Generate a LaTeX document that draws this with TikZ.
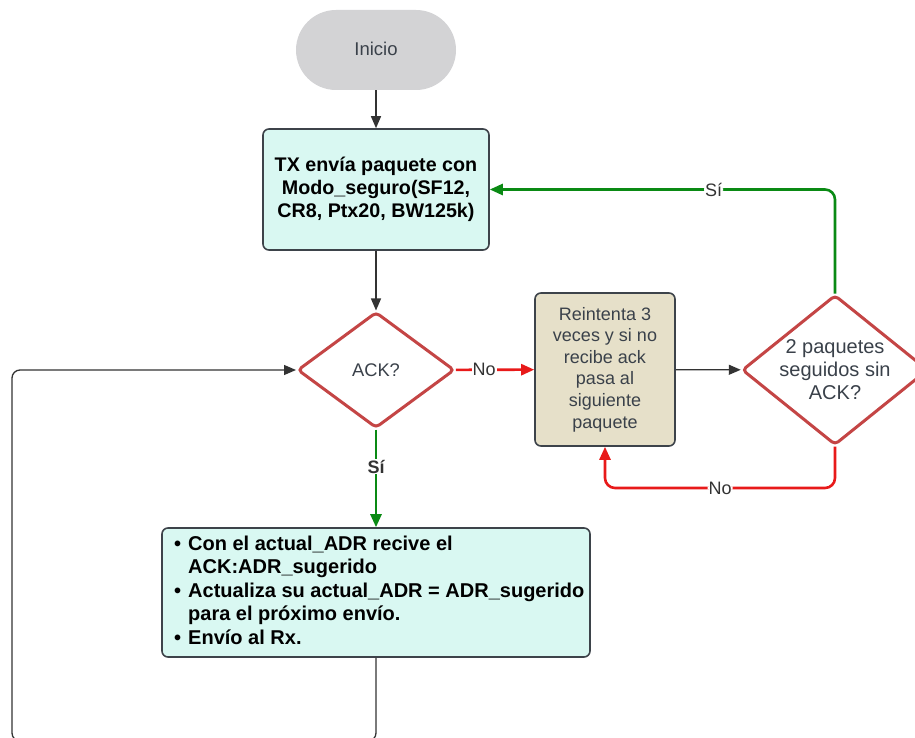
\documentclass[tikz,border=0pt]{standalone}
\usepackage{fontspec}
\setmainfont{Liberation Sans}
\usetikzlibrary{shapes.geometric,arrows.meta}
\definecolor{txtgray}{HTML}{3A414A}
\definecolor{linegray}{HTML}{333333}
\definecolor{boxborder}{HTML}{3D434A}
\definecolor{cyanfill}{HTML}{D9F8F2}
\definecolor{beigefill}{HTML}{E6E0C9}
\definecolor{startfill}{HTML}{D3D3D5}
\definecolor{diared}{HTML}{C44545}
\definecolor{arrred}{HTML}{E81A1A}
\definecolor{arrgreen}{HTML}{0A8A14}
\begin{document}
\begin{tikzpicture}[x=1pt,y=-1pt,
  box/.style={draw=boxborder, line width=1.6pt, rounded corners=6pt, inner sep=0pt},
  dia/.style={diamond, draw=diared, line width=3pt, rounded corners=4pt, fill=white, inner sep=0pt},
  conn/.style={draw=linegray, line width=1.3pt, -{Triangle[length=12pt,width=10pt]}},
  gconn/.style={draw=arrgreen, line width=2.6pt, -{Triangle[length=13pt,width=11pt]}},
  rconn/.style={draw=arrred, line width=2.6pt, -{Triangle[length=13pt,width=11pt]}},
  lbl/.style={fill=white, text=linegray, font=\fontsize{18}{18}\selectfont, inner sep=1pt}]
\useasboundingbox (0,0) rectangle (915,738);

\node[fill=startfill, rounded corners=40pt, minimum width=160pt, minimum height=80pt,
  text=txtgray, font=\fontsize{18.5}{20}\selectfont] (start) at (376,50) {\raisebox{2pt}{Inicio}};

\node[box, fill=cyanfill, minimum width=226pt, minimum height=121pt, align=center,
  font=\bfseries\fontsize{19.7}{22.8}\selectfont] (tx) at (376,189.5)
  {TX envía paquete con\\Modo\_seguro(SF12,\\CR8, Ptx20, BW125k)};

\node[dia, minimum width=157pt, minimum height=116pt, text=txtgray,
  font=\fontsize{18.3}{20}\selectfont] (ack) at (376,370) {ACK?};

\node[box, fill=beigefill, minimum width=140pt, minimum height=153pt, align=center,
  text=txtgray, font=\fontsize{18}{21.6}\selectfont] (re) at (605,369.5)
  {Reintenta 3\\veces y si no\\recibe ack\\pasa al\\siguiente\\paquete};

\node[dia, minimum width=186pt, minimum height=150pt] (d2) at (835,370) {};
\node[text=txtgray, align=center, font=\fontsize{20}{23}\selectfont] (d2t) at (d2)
  {2 paquetes\\seguidos sin\\ACK?};

\node[box, fill=cyanfill, minimum width=428pt, minimum height=129pt] (bot) at (376,592.5) {};
\node[anchor=base west, inner sep=0pt, font=\bfseries\fontsize{20}{23.5}\selectfont] (bott) at (174,550)
  {\begin{tabular}[t]{@{}l@{\hspace{7pt}}l@{}}
   \textbullet & Con el actual\_ADR recive el\\
               & ACK:ADR\_sugerido\\
   \textbullet & Actualiza su actual\_ADR = ADR\_sugerido\\
               & para el próximo envío.\\
   \textbullet & Envío al Rx.
   \end{tabular}};

\coordinate (nb) at (835,488);
\coordinate (lb1) at (376,741);
\coordinate (lb2) at (12,741);
\coordinate (lb3) at (12,370);

\draw[conn] (start) -- (tx);
\draw[conn] (tx) -- (ack);
\draw[rconn] (ack) -- node[lbl, pos=0.36] {No} (re);
\draw[conn] (re) -- (d2);
\draw[gconn, rounded corners=10pt] (d2.north) |- node[lbl, pos=0.676] {Sí} (tx.east);
\draw[rconn, rounded corners=10pt] (d2.south) -- (nb) -| node[lbl, pos=0.25] {No} (re.south);
\draw[gconn] (ack.south) -- node[lbl, pos=0.38, font=\bfseries\fontsize{18}{18}\selectfont] {Sí} (bot.north);
\draw[conn, rounded corners=8pt] (bot.south) -- (lb1) -- (lb2) -- (lb3) -- (ack.west);
\end{tikzpicture}
\end{document}
